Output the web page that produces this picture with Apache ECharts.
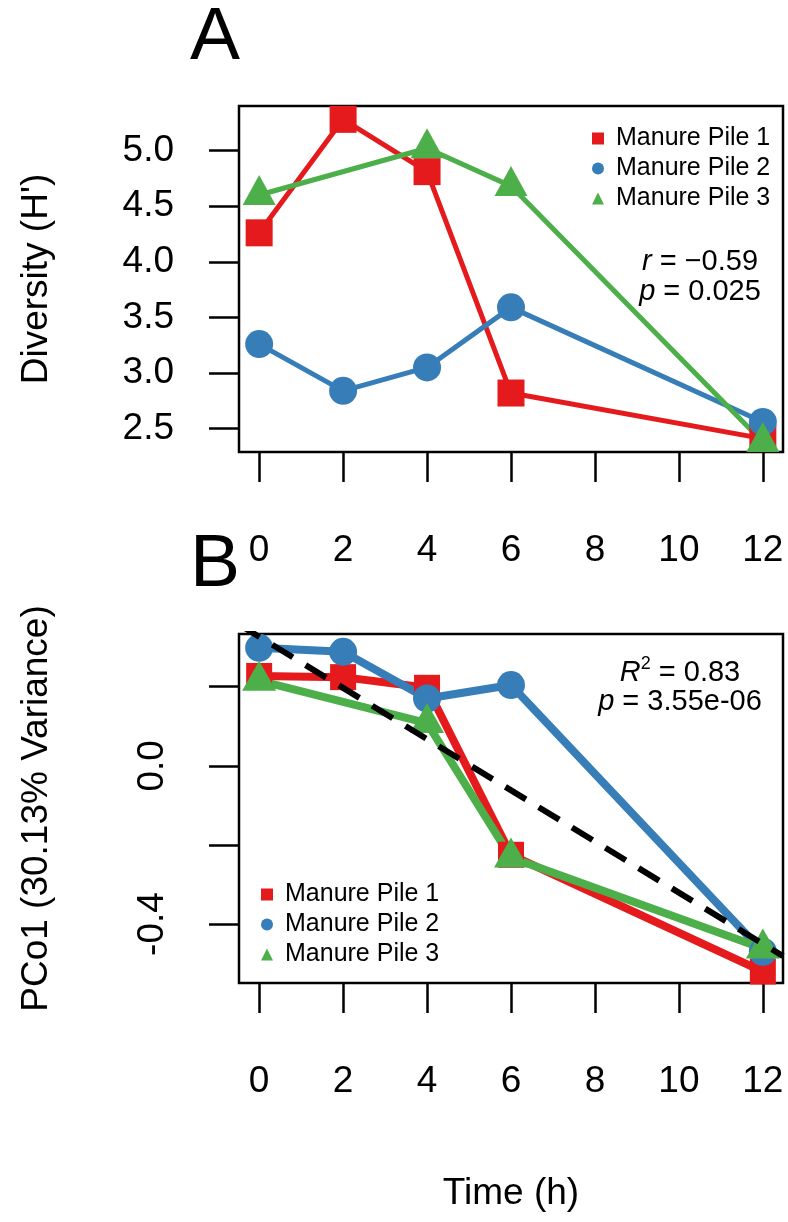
<!DOCTYPE html>
<html>
<head>
<meta charset="utf-8">
<script src="https://cdn.jsdelivr.net/npm/echarts@6/dist/echarts.min.js"></script>
<style>
  html, body { margin: 0; padding: 0; background: #fff; }
  #chart { width: 788px; height: 1222px; }
</style>
</head>
<body>
<div id="chart"></div>
<script>
var hours = [0, 2, 4, 6, 12];
var hoursPile3 = [0, 4, 6, 12];
var xTicks = [0, 2, 4, 6, 8, 10, 12];

// panel A: diversity (H')
var divPile1 = [4.26, 5.28, 4.81, 2.82, 2.41];
var divPile2 = [3.26, 2.84, 3.05, 3.59, 2.56];
var divPile3 = [4.60, 5.02, 4.68, 2.38];
var divTicks = [2.5, 3.0, 3.5, 4.0, 4.5, 5.0];

// panel B: PCo1
var pcoPile1 = [0.227, 0.224, 0.197, -0.225, -0.52];
var pcoPile2 = [0.298, 0.288, 0.170, 0.204, -0.47];
var pcoPile3 = [0.215, 0.108, -0.232, -0.462];
var pcoTicks = [-0.4, -0.2, 0.0, 0.2];
var pcoLabels = [-0.4, 0.0];
var trendX = [-0.48, 12.48];
var trendY = [0.357, -0.481];

var names = ['Manure Pile 1', 'Manure Pile 2', 'Manure Pile 3'];
var colors = ['#E41A1C', '#377EB8', '#4DAF4A'];
var font = 'Liberation Sans, Arial, sans-serif';

function pairs(xs, ys) {
  return xs.map(function (x, i) { return [x, ys[i]]; });
}

function xAxisFor(idx, withName) {
  return {
    type: 'value', gridIndex: idx, min: -0.48, max: 12.48,
    axisLine: { show: false, onZero: false },
    axisTick: { show: true, length: 30, lineStyle: { color: '#000', width: 2.5 }, customValues: xTicks },
    axisLabel: { margin: 80, fontSize: 37, color: '#000', fontFamily: font, customValues: xTicks },
    splitLine: { show: false },
    name: withName ? 'Time (h)' : '',
    nameLocation: 'middle', nameGap: 192,
    nameTextStyle: { fontSize: 37, color: '#000', fontFamily: font }
  };
}

var symA = { sq: 27, ci: 28, tri: [33, 30] };
var symB = { sq: 26, ci: 28, tri: [34, 30] };

function seriesFor(idx, d1, d2, d3, lw, sz) {
  var base = { type: 'line', xAxisIndex: idx, yAxisIndex: idx, clip: true, animation: false, z: 2 };
  return [
    Object.assign({}, base, { name: names[0], data: pairs(hours, d1), symbol: 'rect', symbolSize: sz.sq,
      itemStyle: { color: colors[0] }, lineStyle: { color: colors[0], width: lw } }),
    Object.assign({}, base, { name: names[1], data: pairs(hours, d2), symbol: 'circle', symbolSize: sz.ci,
      itemStyle: { color: colors[1] }, lineStyle: { color: colors[1], width: lw } }),
    Object.assign({}, base, { name: names[2], data: pairs(hoursPile3, d3), symbol: 'triangle', symbolSize: sz.tri,
      symbolOffset: [0, -5],
      itemStyle: { color: colors[2] }, lineStyle: { color: colors[2], width: lw } })
  ];
}

function legendFor(left, top) {
  return {
    orient: 'vertical', left: left, top: top,
    itemWidth: 12, itemHeight: 12, itemGap: 5,
    selectedMode: false,
    textStyle: { fontSize: 25, lineHeight: 25, color: '#000', fontFamily: font, padding: [0, 0, 0, 7] },
    data: [
      { name: names[0], icon: 'rect' },
      { name: names[1], icon: 'circle' },
      { name: names[2], icon: 'triangle' }
    ]
  };
}

var annot = { fontSize: 29, fill: '#000', fontFamily: font, align: 'center', verticalAlign: 'middle' };
var rich = { i: { fontStyle: 'italic', fontSize: 29, fontFamily: font },
             s: { fontSize: 18, fontFamily: font, padding: [0, 0, 17, 0] } };

var chart = echarts.init(document.getElementById('chart'), null, { renderer: 'canvas' });
chart.setOption({
  backgroundColor: '#fff',
  animation: false,
  grid: [
    { left: 239, top: 106, width: 544, height: 346, show: true, borderColor: '#000', borderWidth: 2.5, backgroundColor: 'transparent' },
    { left: 239, top: 634, width: 544, height: 349, show: true, borderColor: '#000', borderWidth: 2.5, backgroundColor: 'transparent' }
  ],
  xAxis: [xAxisFor(0, false), xAxisFor(1, true)],
  yAxis: [
    {
      type: 'value', gridIndex: 0, min: 2.29, max: 5.40,
      axisLine: { show: false, onZero: false },
      axisTick: { show: true, length: 30, lineStyle: { color: '#000', width: 2.5 }, customValues: divTicks },
      axisLabel: { margin: 65, fontSize: 37, color: '#000', fontFamily: font, customValues: divTicks,
        formatter: function (v) { return v.toFixed(1); } },
      splitLine: { show: false },
      name: "Diversity (H')", nameLocation: 'middle', nameGap: 184, nameRotate: 90,
      nameTextStyle: { fontSize: 37, color: '#000', fontFamily: font }
    },
    {
      type: 'value', gridIndex: 1, min: -0.549, max: 0.333,
      axisLine: { show: false, onZero: false },
      axisTick: { show: true, length: 30, lineStyle: { color: '#000', width: 2.5 }, customValues: pcoTicks },
      axisLabel: { margin: 68, fontSize: 37, color: '#000', fontFamily: font, rotate: 90, customValues: pcoLabels,
        formatter: function (v) { return v.toFixed(1); } },
      splitLine: { show: false },
      name: 'PCo1 (30.13% Variance)', nameLocation: 'middle', nameGap: 184, nameRotate: 90,
      nameTextStyle: { fontSize: 37, color: '#000', fontFamily: font }
    }
  ],
  legend: [legendFor(587, 121), legendFor(256, 877)],
  series: seriesFor(0, divPile1, divPile2, divPile3, 5, symA)
    .concat(seriesFor(1, pcoPile1, pcoPile2, pcoPile3, 8, symB))
    .concat([{
      type: 'line', xAxisIndex: 1, yAxisIndex: 1, clip: true, symbol: 'none', z: 3,
      data: pairs(trendX, trendY),
      lineStyle: { color: '#000', width: 6, type: [24, 15] }
    }]),
  graphic: [
    { type: 'text', x: 215, y: 38, style: { text: 'A', fontSize: 75, fill: '#000', fontFamily: font, align: 'center', verticalAlign: 'middle' } },
    { type: 'text', x: 215, y: 565, style: { text: 'B', fontSize: 75, fill: '#000', fontFamily: font, align: 'center', verticalAlign: 'middle' } },
    { type: 'text', x: 700, y: 262, style: Object.assign({}, annot, { text: '{i|r} = \u22120.59', rich: rich }) },
    { type: 'text', x: 700, y: 292, style: Object.assign({}, annot, { text: '{i|p} = 0.025', rich: rich }) },
    { type: 'text', x: 680, y: 673, style: Object.assign({}, annot, { text: '{i|R}{s|2} = 0.83', rich: rich }) },
    { type: 'text', x: 680, y: 702, style: Object.assign({}, annot, { text: '{i|p} = 3.55e-06', rich: rich }) }
  ]
});
</script>
</body>
</html>
